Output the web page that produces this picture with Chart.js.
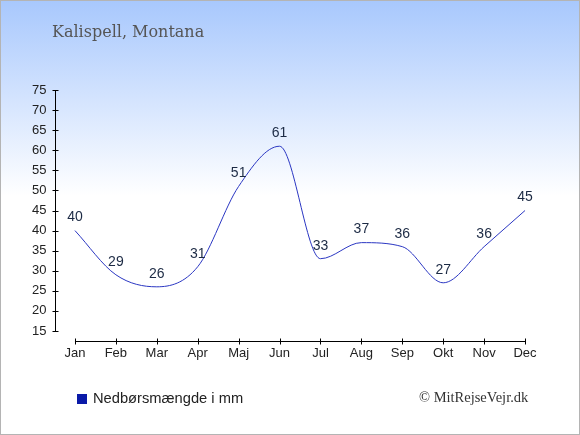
<!DOCTYPE html>
<html>
<head>
<meta charset="utf-8">
<script src="https://cdn.jsdelivr.net/npm/chart.js@4/dist/chart.umd.min.js"></script>
<style>
  html, body { margin: 0; padding: 0; }
  #wrap {
    position: relative; width: 580px; height: 435px; box-sizing: border-box;
    border: 1px solid #b4b4b4;
    background: linear-gradient(to bottom, #a8c8fd 0px, #ffffff 195px, #ffffff 435px);
    overflow: hidden;
  }
  #chart { position: absolute; left: -1px; top: -1px; }
  #title {
    position: absolute; left: 51px; top: 21px;
    font-family: "DejaVu Serif", serif; font-size: 16px; color: #555;
  }
  #legend {
    position: absolute; left: 76px; top: 389px;
    font-family: "Liberation Sans", Arial, sans-serif; font-size: 14.7px; color: #222;
  }
  #legend span.box {
    display: inline-block; width: 10px; height: 10px; background: #0a1aa8;
    margin-right: 6px; vertical-align: -1px;
  }
  #copy {
    position: absolute; left: 418px; top: 388px;
    font-family: "Liberation Serif", serif; font-size: 14.5px; color: #333;
  }
</style>
</head>
<body>
<div id="wrap">
  <canvas id="chart" width="580" height="435"></canvas>
  <div id="title">Kalispell, Montana</div>
  <div id="legend"><span class="box"></span>Nedbørsmængde i mm</div>
  <div id="copy">© MitRejseVejr.dk</div>
</div>
<script>
const months = ['Jan', 'Feb', 'Mar', 'Apr', 'Maj', 'Jun', 'Jul', 'Aug', 'Sep', 'Okt', 'Nov', 'Dec'];
const rainfall = [40, 29, 26, 31, 51, 61, 33, 37, 36, 27, 36, 45];
const yTicks = [15, 20, 25, 30, 35, 40, 45, 50, 55, 60, 65, 70, 75];

// axis lines and tick marks, drawn separately like the original
const axisLines = {
  id: 'axisLines',
  afterDraw(chart) {
    const ctx = chart.ctx;
    const x = chart.scales.x, y = chart.scales.y;
    const ax = Math.round(chart.chartArea.left) + 0.5;
    const bottomY = Math.round(chart.chartArea.bottom) + 10.5;
    ctx.save();
    ctx.strokeStyle = '#000';
    ctx.lineWidth = 1;
    ctx.beginPath();
    ctx.moveTo(ax, y.getPixelForValue(75));
    ctx.lineTo(ax, y.getPixelForValue(15));
    yTicks.forEach(v => {
      const py = Math.round(y.getPixelForValue(v)) + 0.5;
      ctx.moveTo(ax - 3, py);
      ctx.lineTo(ax + 3, py);
    });
    ctx.moveTo(x.getPixelForValue(0), bottomY);
    ctx.lineTo(x.getPixelForValue(months.length - 1), bottomY);
    months.forEach((m, i) => {
      const px = Math.round(x.getPixelForValue(i)) + 0.5;
      ctx.moveTo(px, bottomY - 3);
      ctx.lineTo(px, bottomY + 3);
    });
    ctx.stroke();
    ctx.restore();
  }
};

// value labels above each point
const valueLabels = {
  id: 'valueLabels',
  afterDatasetsDraw(chart) {
    const ctx = chart.ctx;
    const meta = chart.getDatasetMeta(0);
    ctx.save();
    ctx.font = '14px "Liberation Sans", Arial, sans-serif';
    ctx.fillStyle = '#1c2a44';
    ctx.textAlign = 'center';
    ctx.textBaseline = 'middle';
    meta.data.forEach((pt, i) => {
      ctx.fillText(String(rainfall[i]), pt.x, pt.y - 13);
    });
    ctx.restore();
  }
};

const ctx = document.getElementById('chart').getContext('2d');
new Chart(ctx, {
  type: 'line',
  data: {
    labels: months,
    datasets: [{
      label: 'Nedbørsmængde i mm',
      data: rainfall,
      borderColor: '#2a36c2',
      borderWidth: 1,
      pointRadius: 0,
      fill: false,
      cubicInterpolationMode: 'monotone',
    }],
  },
  options: {
    responsive: false,
    animation: false,
    layout: {
      padding: { left: 0, right: 34.5, top: 90, bottom: 74 },
    },
    plugins: {
      legend: { display: false },
      title: { display: false },
      tooltip: { enabled: false },
    },
    scales: {
      x: {
        offset: true,
        grid: { display: false, drawTicks: false },
        border: { display: false },
        ticks: {
          padding: 15,
          color: '#222',
          font: { family: '"Liberation Sans", Arial, sans-serif', size: 13 },
          maxRotation: 0,
          autoSkip: false,
        },
        afterFit(scale) { scale.height = 30; },
      },
      y: {
        min: 15,
        max: 75,
        grid: { display: false, drawTicks: false },
        border: { display: false },
        ticks: {
          stepSize: 5,
          padding: 8,
          color: '#222',
          font: { family: '"Liberation Sans", Arial, sans-serif', size: 13 },
        },
        afterFit(scale) { scale.width = 54.5; },
      },
    },
  },
  plugins: [axisLines, valueLabels],
});
</script>
</body>
</html>
